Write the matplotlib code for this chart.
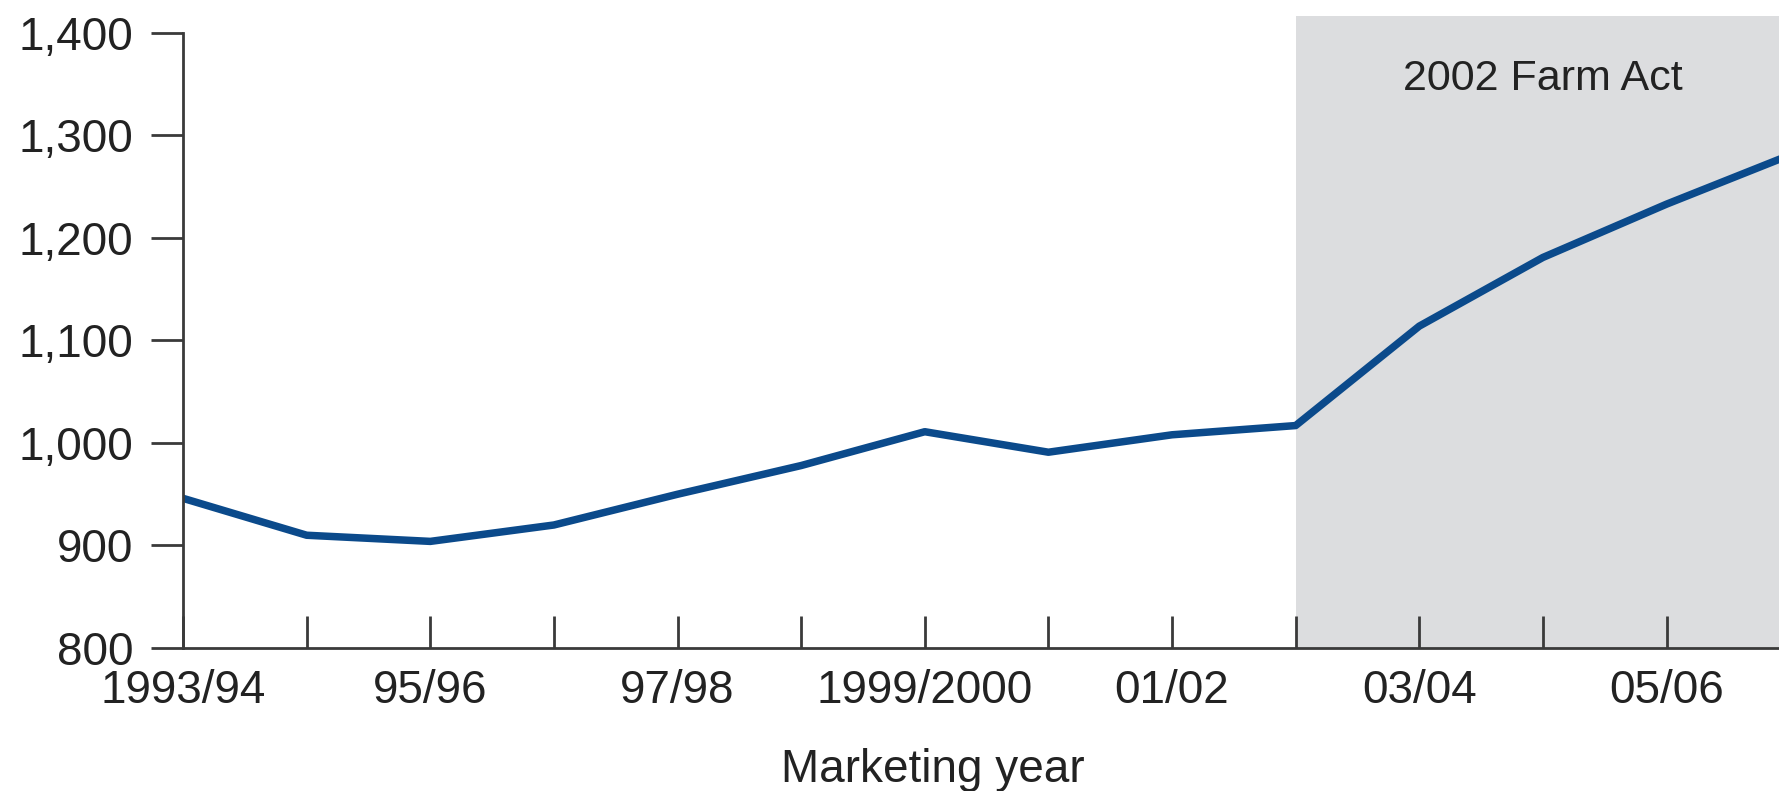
import matplotlib.pyplot as plt
from matplotlib.ticker import FuncFormatter

plt.rcParams["font.family"] = ["Liberation Sans", "DejaVu Sans"]

# marketing years 1993/94 .. 2006/07
years = ["1993/94", "94/95", "95/96", "96/97", "97/98", "98/99", "1999/2000",
         "00/01", "01/02", "02/03", "03/04", "04/05", "05/06", "06/07"]
values = [946, 910, 904, 920, 950, 978, 1011, 991, 1008, 1017,
          1114, 1181, 1233, 1281]
shown_labels = ["1993/94", "95/96", "97/98", "1999/2000", "01/02", "03/04", "05/06"]
farm_act_start = 9  # 2002/03

text_col = "#222222"
axis_col = "#3a3a3a"

fig = plt.figure(figsize=(17.79, 7.91), dpi=100)
ax = fig.add_axes([0.1029, 0.1808, 0.8971, 0.799])

x = list(range(len(years)))
ax.axvspan(farm_act_start, len(years), color="#dcdddf", lw=0, zorder=0)
ax.plot(x, values, color="#0b4a8b", lw=5.4, solid_joinstyle="round",
        solid_capstyle="round", zorder=3)

ax.set_xlim(0, 12.91)
ax.set_ylim(800, 1416.6)

ax.set_yticks(range(800, 1401, 100))
ax.yaxis.set_major_formatter(FuncFormatter(lambda v, p: f"{v:,.0f}"))
ax.set_xticks(x[:13])
ax.set_xticklabels([y if y in shown_labels else "" for y in years[:13]])

for s in ["top", "right"]:
    ax.spines[s].set_visible(False)
ax.spines["left"].set_bounds(800, 1400)
for s in ["left", "bottom"]:
    ax.spines[s].set_color(axis_col)
    ax.spines[s].set_linewidth(2)
    ax.spines[s].set_zorder(4)

ax.tick_params(axis="y", direction="out", length=23, width=2, color=axis_col,
               pad=13, labelsize=33, labelcolor=text_col)
ax.tick_params(axis="x", direction="in", length=23, width=2, color=axis_col,
               pad=15, labelsize=33, labelcolor=text_col)
ax.patch.set_alpha(0)

ax.text(11, 1344, "2002 Farm Act", ha="center", va="baseline",
        fontsize=31, color=text_col)
fig.text(933 / 1779, 1 - 782 / 791, "Marketing year", ha="center",
         va="baseline", fontsize=33, color=text_col)

fig.savefig("out.png", dpi=100)
